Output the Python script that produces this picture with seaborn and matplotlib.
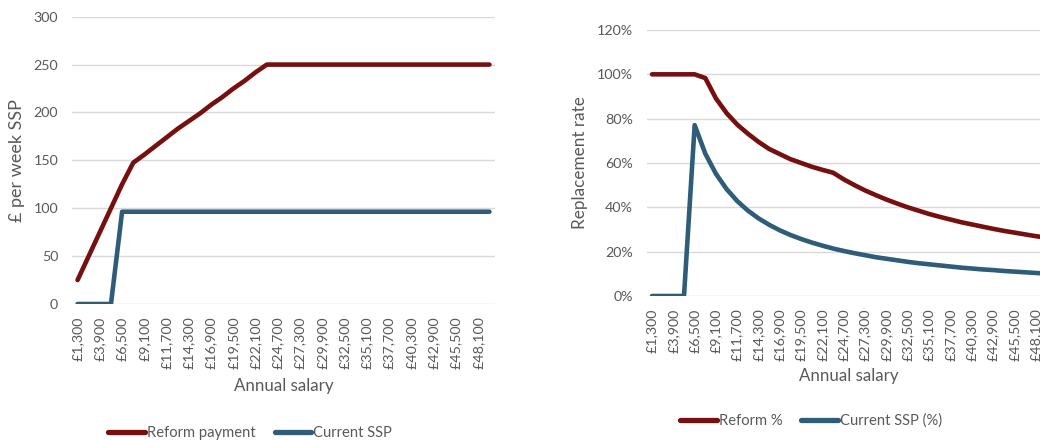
import numpy as np
import pandas as pd
import seaborn as sns
import matplotlib
matplotlib.use("Agg")
import matplotlib.pyplot as plt
from matplotlib.ticker import FuncFormatter
from matplotlib.lines import Line2D

# Annual salary points (every £1,300)
salaries = [1300, 2600, 3900, 5200, 6500, 7800, 9100, 10400, 11700, 13000,
            14300, 15600, 16900, 18200, 19500, 20800, 22100, 23400, 24700, 26000,
            27300, 28600, 29900, 31200, 32500, 33800, 35100, 36400, 37700, 39000,
            40300, 41600, 42900, 44200, 45500, 46800, 48100, 49400]

# Weekly payment, £
reform_payment = [25, 50, 75, 100, 125, 147.5, 156, 165, 174, 183,
                  191, 199, 208, 216, 225, 233, 242, 250, 250, 250,
                  250, 250, 250, 250, 250, 250, 250, 250, 250, 250,
                  250, 250, 250, 250, 250, 250, 250, 250]
current_ssp = [0, 0, 0, 0, 96.35, 96.35, 96.35, 96.35, 96.35, 96.35,
               96.35, 96.35, 96.35, 96.35, 96.35, 96.35, 96.35, 96.35, 96.35, 96.35,
               96.35, 96.35, 96.35, 96.35, 96.35, 96.35, 96.35, 96.35, 96.35, 96.35,
               96.35, 96.35, 96.35, 96.35, 96.35, 96.35, 96.35, 96.35]

# Replacement rate (share of weekly earnings)
reform_pct = [1.0, 1.0, 1.0, 1.0, 1.0, 0.983, 0.891, 0.825, 0.773, 0.732,
              0.695, 0.663, 0.640, 0.617, 0.600, 0.583, 0.569, 0.556, 0.526, 0.500,
              0.476, 0.455, 0.435, 0.417, 0.400, 0.385, 0.370, 0.357, 0.345, 0.333,
              0.323, 0.313, 0.303, 0.294, 0.286, 0.278, 0.270, 0.263]
current_pct = [0, 0, 0, 0, 0.771, 0.642, 0.551, 0.482, 0.428, 0.385,
               0.350, 0.321, 0.296, 0.275, 0.257, 0.241, 0.227, 0.214, 0.203, 0.193,
               0.184, 0.175, 0.168, 0.161, 0.154, 0.148, 0.143, 0.138, 0.133, 0.128,
               0.124, 0.120, 0.117, 0.113, 0.110, 0.107, 0.104, 0.101]

RED = "#760f10"
BLUE = "#2f5c78"
TXT = "#595959"
GRID = "#d9d9d9"

sns.set_theme(style="white")
plt.rcParams["font.family"] = ["Lato", "DejaVu Sans"]

idx = np.arange(len(salaries))
tick_pos = idx[::2]
tick_lab = [f"£{s:,}" for s in salaries[::2]]

pay = pd.DataFrame({"pos": np.concatenate([idx, idx]),
                    "value": reform_payment + current_ssp,
                    "series": ["Reform payment"] * len(idx) + ["Current SSP"] * len(idx)})
rate = pd.DataFrame({"pos": np.concatenate([idx, idx]),
                     "value": reform_pct + current_pct,
                     "series": ["Reform %"] * len(idx) + ["Current SSP (%)"] * len(idx)})

fig = plt.figure(figsize=(10.4, 4.41), dpi=100)
ax1 = fig.add_axes([72 / 1040, 1 - 304 / 441, 423 / 1040, (304 - 16.7) / 441])
ax2 = fig.add_axes([646.7 / 1040, 1 - 296 / 441, 405 / 1040, (296 - 30) / 441])


def style(ax, ylim, yticks, ylabel, ysize, label_y):
    ax.set_xlim(-0.5, len(idx) - 0.5)
    ax.set_ylim(*ylim)
    ax.set_yticks(yticks)
    ax.set_xticks(tick_pos)
    ax.set_xticklabels(tick_lab, rotation=90)
    ax.grid(axis="y", color=GRID, linewidth=1.0)
    ax.set_axisbelow(True)
    for sp in ax.spines.values():
        sp.set_visible(False)
    ax.tick_params(axis="both", length=0, labelsize=10.3, colors=TXT)
    ax.tick_params(axis="y", pad=10)
    ax.tick_params(axis="x", pad=9)
    ax.set_xlabel("Annual salary", fontsize=12.2, color=TXT)
    ax.xaxis.set_label_coords(0.5, label_y, transform=ax.transAxes)
    ax.xaxis.label.set_va("center")
    ax.set_ylabel(ylabel, fontsize=ysize, color=TXT, labelpad=6)


sns.lineplot(data=pay, x="pos", y="value", hue="series",
             palette=[RED, BLUE], linewidth=3.3, ax=ax1, legend=False,
             solid_capstyle="round", solid_joinstyle="round")
style(ax1, (0, 300), range(0, 301, 50), "£ per week SSP", 13,
      (304 - 386) / (304 - 16.7))

sns.lineplot(data=rate, x="pos", y="value", hue="series",
             palette=[RED, BLUE], linewidth=3.3, ax=ax2, legend=False,
             solid_capstyle="round", solid_joinstyle="round")
style(ax2, (0, 1.2), np.arange(0, 1.21, 0.2), "Replacement rate", 12.3,
      (296 - 376) / (296 - 30))
ax2.yaxis.set_major_formatter(FuncFormatter(lambda v, _: f"{v * 100:.0f}%"))


def add_legend(labels, cx, cy):
    handles = [Line2D([], [], color=c, linewidth=3.8, solid_capstyle="round")
               for c in (RED, BLUE)]
    fig.legend(handles, labels, loc="center", bbox_to_anchor=(cx / 1040, 1 - cy / 441),
               ncol=2, frameon=False, fontsize=10.6, labelcolor=TXT,
               handlelength=2.5, handletextpad=0.1, columnspacing=1.3)


add_legend(["Reform payment", "Current SSP"], 250, 433)
add_legend(["Reform %", "Current SSP (%)"], 811, 421)

fig.savefig("out.png", dpi=100)
